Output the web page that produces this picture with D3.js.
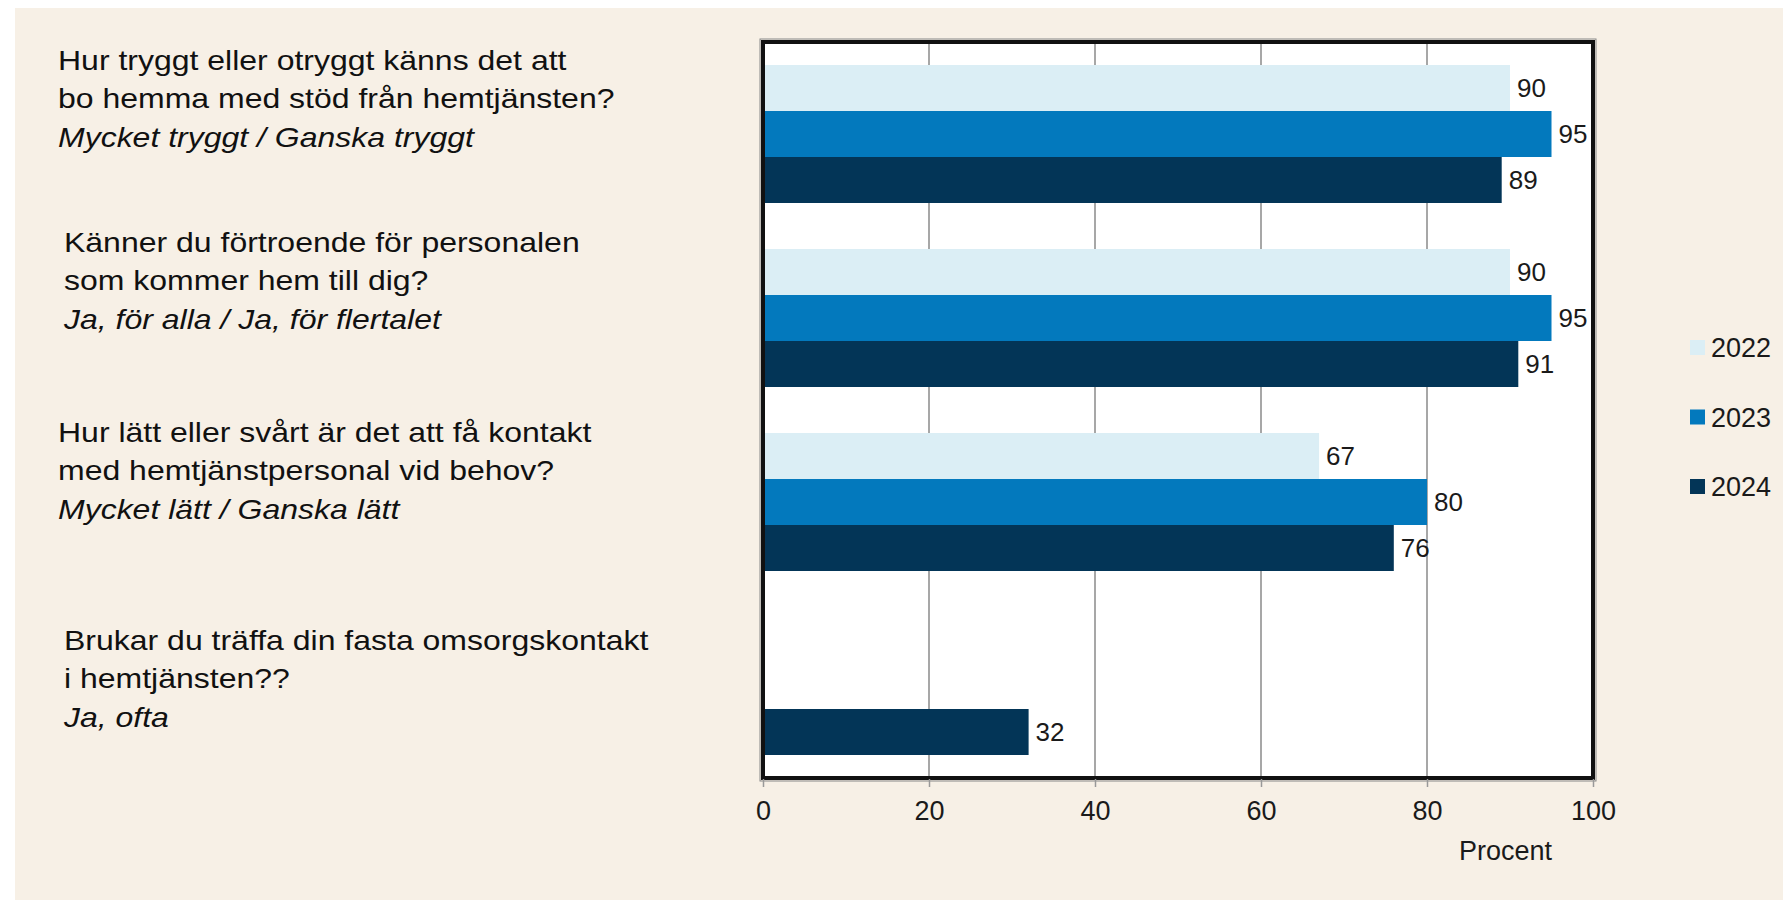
<!DOCTYPE html>
<html lang="sv">
<head>
  <meta charset="UTF-8">
  <title>Hemtjänst</title>
  <style>
    body { margin: 0; background: #fff; }
    svg { display: block; font-family: "Liberation Sans", Arial, sans-serif; }
  </style>
</head>
<body>
  <div id="chart"></div>
</body>
<script src="https://cdn.jsdelivr.net/npm/d3@7"></script>
<script>
  // data
  var questions = ['q1', 'q2', 'q3', 'q4']
  var years = ['2022', '2023', '2024']
  var values2022 = [90, 90, 67, null]
  var values2023 = [95, 95, 80, null]
  var values2024 = [89, 91, 76, 32]
  var xTicks = [0, 20, 40, 60, 80, 100]
  var questionText = [
    ['Hur tryggt eller otryggt känns det att', 'bo hemma med stöd från hemtjänsten?', 'Mycket tryggt / Ganska tryggt'],
    ['Känner du förtroende för personalen', 'som kommer hem till dig?', 'Ja, för alla / Ja, för flertalet'],
    ['Hur lätt eller svårt är det att få kontakt', 'med hemtjänstpersonal vid behov?', 'Mycket lätt / Ganska lätt'],
    ['Brukar du träffa din fasta omsorgskontakt', 'i hemtjänsten??', 'Ja, ofta']
  ]
  var colors = ['#dbeef5', '#0379bd', '#033557']
  var axisTitle = 'Procent'

  var series = [values2022, values2023, values2024]

  var width = 1783
  var height = 900
  var plot = {left: 763, right: 1593, top: 42, bottom: 778}

  var svg = d3.select('#chart').append('svg')
    .attr('width', width)
    .attr('height', height)

  // beige panel
  svg.append('rect')
    .attr('x', 15).attr('y', 8)
    .attr('width', width - 15).attr('height', height - 8)
    .attr('fill', '#f7f0e6')

  var xScale = d3.scaleLinear()
    .domain([0, 100])
    .range([plot.left, plot.right])
  var yScale = d3.scaleBand()
    .domain(questions)
    .range([plot.top, plot.bottom])
    .paddingInner(0.25)
    .paddingOuter(0.125)
  var ySub = d3.scaleBand()
    .domain(years)
    .range([0, yScale.bandwidth()])

  // plot background
  svg.append('rect')
    .attr('x', plot.left).attr('y', plot.top)
    .attr('width', plot.right - plot.left)
    .attr('height', plot.bottom - plot.top)
    .attr('fill', '#fff')

  // grid lines
  svg.append('g').selectAll('line')
    .data(xTicks.slice(1, -1))
    .enter()
    .append('line')
    .attr('x1', d => xScale(d)).attr('x2', d => xScale(d))
    .attr('y1', plot.top).attr('y2', plot.bottom)
    .attr('stroke', '#8a8a8a')
    .attr('stroke-width', 1.5)

  // bars
  var bars = []
  series.forEach((s, i) => {
    s.forEach((v, j) => {
      if (v != null) bars.push({q: questions[j], year: years[i], value: v, color: colors[i]})
    })
  })

  var barG = svg.append('g')
  barG.selectAll('rect')
    .data(bars)
    .enter()
    .append('rect')
    .attr('x', xScale(0))
    .attr('y', d => yScale(d.q) + ySub(d.year))
    .attr('width', d => xScale(d.value) - xScale(0))
    .attr('height', ySub.bandwidth())
    .attr('fill', d => d.color)

  barG.selectAll('text')
    .data(bars)
    .enter()
    .append('text')
    .attr('x', d => xScale(d.value) + 7)
    .attr('y', d => yScale(d.q) + ySub(d.year) + ySub.bandwidth() / 2)
    .attr('dy', '0.36em')
    .attr('font-size', 26)
    .attr('fill', '#1a1a1a')
    .text(d => d.value)

  // frame
  svg.append('rect')
    .attr('x', plot.left - 3).attr('y', plot.top - 3)
    .attr('width', plot.right - plot.left + 6)
    .attr('height', plot.bottom - plot.top + 6)
    .attr('fill', 'none')
    .attr('stroke', '#888')
    .attr('stroke-width', 1)
  svg.append('rect')
    .attr('x', plot.left).attr('y', plot.top)
    .attr('width', plot.right - plot.left)
    .attr('height', plot.bottom - plot.top)
    .attr('fill', 'none')
    .attr('stroke', '#111')
    .attr('stroke-width', 4)

  // x axis
  var xAxis = d3.axisBottom(xScale)
    .tickValues(xTicks)
    .tickSize(8)
    .tickPadding(14)
  var axisG = svg.append('g')
    .attr('transform', `translate(0,${plot.bottom + 1})`)
    .call(xAxis)
  axisG.select('.domain').remove()
  axisG.selectAll('line').attr('stroke', '#999').attr('stroke-width', 1.5)
  axisG.selectAll('text')
    .attr('font-size', 27)
    .attr('font-family', '"Liberation Sans", Arial, sans-serif')
    .attr('fill', '#1a1a1a')

  svg.append('text')
    .attr('x', 1552).attr('y', 860)
    .attr('text-anchor', 'end')
    .attr('font-size', 27)
    .attr('fill', '#1a1a1a')
    .text(axisTitle)

  // question texts (stretched sideways like the original)
  var textPos = [[58, 70], [64, 252], [58, 442], [64, 650]]
  questionText.forEach((lines, i) => {
    var t = svg.append('g')
      .attr('transform', `translate(${textPos[i][0]},${textPos[i][1]}) scale(1.185,1)`)
      .append('text')
      .attr('font-size', 27)
      .attr('fill', '#111')
    lines.forEach((line, k) => {
      t.append('tspan')
        .attr('x', 0)
        .attr('y', k * 38.5)
        .attr('font-style', k == 2 ? 'italic' : null)
        .text(line)
    })
  })

  // legend
  var legend = svg.append('g').selectAll('g')
    .data(years)
    .enter()
    .append('g')
    .attr('transform', (d, i) => `translate(1690,${340 + i * 69.5})`)
  legend.append('rect')
    .attr('width', 15).attr('height', 15)
    .attr('fill', (d, i) => colors[i])
  legend.append('text')
    .attr('x', 21).attr('y', 17)
    .attr('font-size', 27)
    .attr('fill', '#1a1a1a')
    .text(d => d)
</script>
</html>
